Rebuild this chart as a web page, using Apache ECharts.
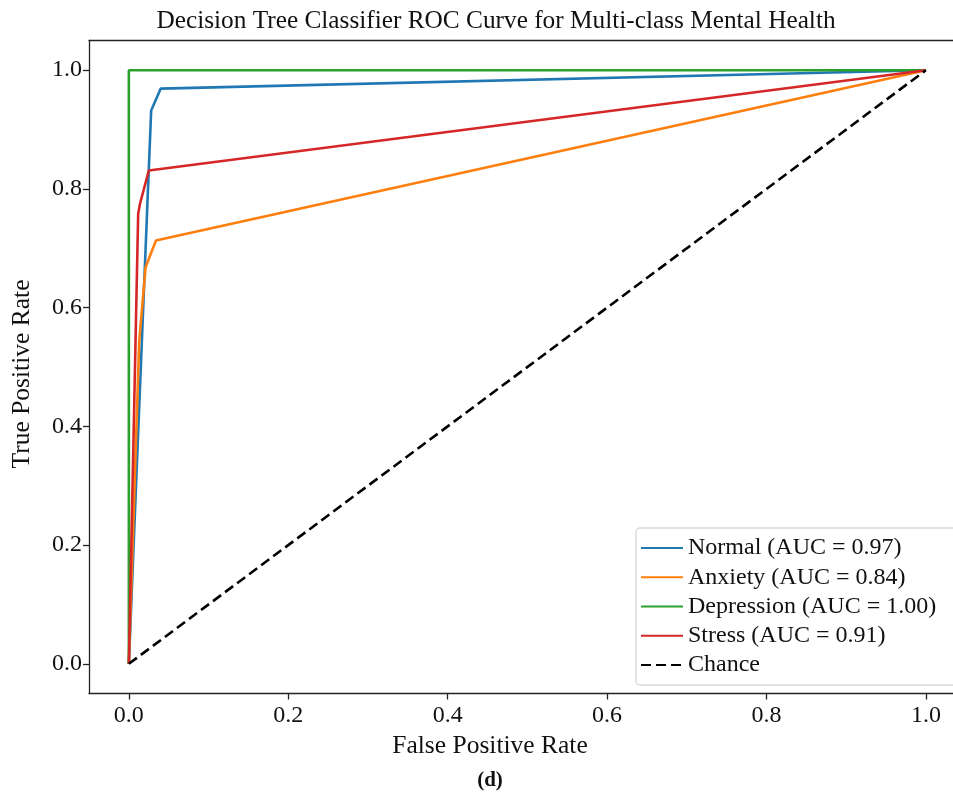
<!DOCTYPE html>
<html>
<head>
<meta charset="utf-8">
<script src="https://cdn.jsdelivr.net/npm/echarts@6/dist/echarts.min.js"></script>
<style>html,body{margin:0;padding:0;background:#fff;overflow:hidden;}#c{width:953px;height:795px;}</style>
</head>
<body>
<div id="c"></div>
<script>
const seriesNames = ["Normal (AUC = 0.97)", "Anxiety (AUC = 0.84)", "Depression (AUC = 1.00)", "Stress (AUC = 0.91)", "Chance"];
const normalFpr = [0, 0.028, 0.040, 1];
const normalTpr = [0, 0.932, 0.969, 1];
const anxietyFpr = [0, 0.013, 0.021, 0.034, 1];
const anxietyTpr = [0, 0.544, 0.668, 0.713, 1];
const depressionFpr = [0, 0, 1];
const depressionTpr = [0, 1, 1];
const stressFpr = [0, 0.0117, 0.014, 0.025, 1];
const stressTpr = [0, 0.758, 0.775, 0.831, 1];
const chanceFpr = [0, 1];
const chanceTpr = [0, 1];
const tickValues = [0, 0.2, 0.4, 0.6, 0.8, 1.0];
const colors = ["#1f77b4", "#ff7f0e", "#2ca02c", "#d62728", "#000000"];

const pairs = (xs, ys) => xs.map((x, i) => [x, ys[i]]);
const curves = [
  pairs(normalFpr, normalTpr),
  pairs(anxietyFpr, anxietyTpr),
  pairs(depressionFpr, depressionTpr),
  pairs(stressFpr, stressTpr),
  pairs(chanceFpr, chanceTpr)
];
const FONT = "Liberation Serif";
const lineCol = "#222";
function mkAxis(min, max, margin, extra) {
  return Object.assign({
    type: "value", min: min, max: max,
    splitLine: {show: false},
    axisLine: {show: true, onZero: false, lineStyle: {color: lineCol, width: 1.3}},
    axisTick: {show: true, length: 6, lineStyle: {color: lineCol, width: 1.3}, customValues: tickValues},
    axisLabel: {customValues: tickValues, color: "#111", fontFamily: FONT, fontSize: 24, margin: margin,
      formatter: v => v.toFixed(1)}
  }, extra || {});
}
const chart = echarts.init(document.getElementById("c"), null, {renderer: "canvas"});
chart.setOption({
  animation: false,
  backgroundColor: "#fff",
  title: {
    text: "Decision Tree Classifier ROC Curve for Multi-class Mental Health",
    left: 491, top: 4, textAlign: "center",
    textStyle: {fontFamily: FONT, fontWeight: "normal", fontSize: 25.3, color: "#111"}
  },
  grid: {left: 89, top: 40.5, width: 864, height: 653, show: false},
  xAxis: [
    mkAxis(-0.05, 1.034, 10),
    mkAxis(-0.05, 1.034, 10, {position: "top", axisTick: {show: false}, axisLabel: {show: false}})
  ],
  yAxis: mkAxis(-0.05, 1.05, 7),
  legend: {
    orient: "vertical", left: 636, top: 528,
    data: seriesNames,
    itemWidth: 42, itemHeight: 14, itemGap: 5.25,
    padding: [8, 24, 8, 4],
    itemStyle: {opacity: 0},
    backgroundColor: "#fff", borderColor: "#d8d8d8", borderWidth: 1.3, borderRadius: 4,
    textStyle: {fontFamily: FONT, fontSize: 24, color: "#111"}
  },
  graphic: [
    {type: "text", x: 490, y: 746,
     style: {text: "False Positive Rate", fontFamily: FONT, fontSize: 25.5, fill: "#111", align: "center", verticalAlign: "middle"}},
    {type: "text", x: 22, y: 374, rotation: Math.PI / 2,
     style: {text: "True Positive Rate", fontFamily: FONT, fontSize: 25.5, fill: "#111", align: "center", verticalAlign: "middle"}},
    {type: "text", x: 490, y: 781,
     style: {text: "(d)", fontFamily: FONT, fontWeight: "bold", fontSize: 21, fill: "#111", align: "center", verticalAlign: "middle"}}
  ],
  series: curves.map((d, i) => ({
    name: seriesNames[i], type: "line", data: d,
    symbol: "none", showSymbol: false, clip: true,
    lineStyle: {color: colors[i], width: 2.6, type: i === 4 ? [10, 5] : "solid"},
    itemStyle: {color: colors[i]},
    z: i === 4 ? 5 : 2 + i
  }))
});
</script>
</body>
</html>
